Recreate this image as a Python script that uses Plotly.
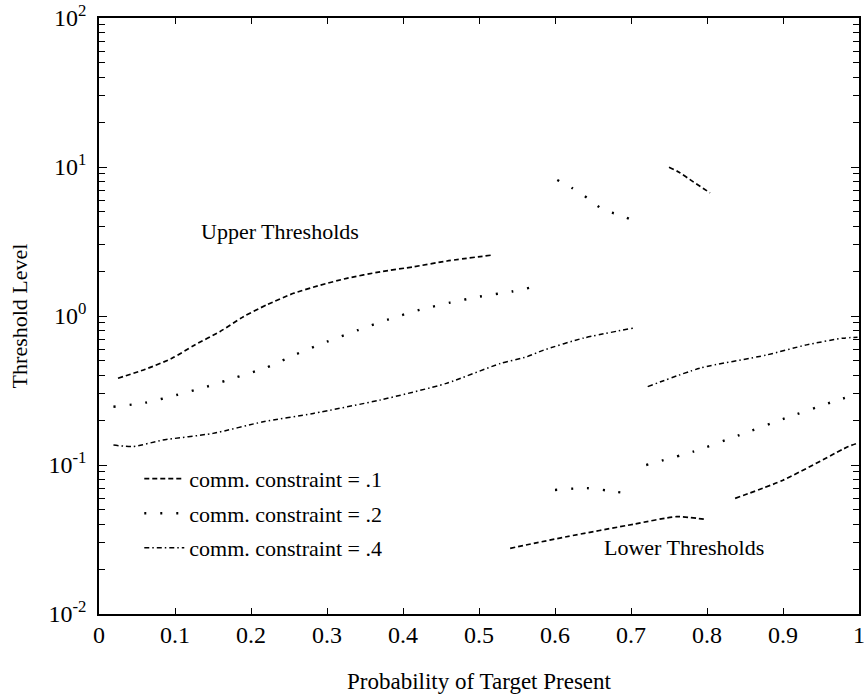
import plotly.graph_objects as go

# ---- data ----
# comm. constraint = .1 (dashed)
p_c1_upper = [0.025, 0.061, 0.096, 0.126, 0.159, 0.19, 0.221, 0.256, 0.291, 0.326, 0.37, 0.414, 0.458, 0.519]
t_c1_upper = [0.382, 0.439, 0.520, 0.639, 0.785, 0.99, 1.19, 1.42, 1.61, 1.79, 1.98, 2.14, 2.34, 2.57]
p_c1_upper2 = [0.75, 0.762, 0.782, 0.804]
t_c1_upper2 = [9.95, 9.3, 7.95, 6.7]
p_c1_lower = [0.541, 0.615, 0.703, 0.76, 0.80]
t_c1_lower = [0.0276, 0.033, 0.040, 0.045, 0.043]
p_c1_lower2 = [0.837, 0.90, 0.986, 0.998]
t_c1_lower2 = [0.0597, 0.079, 0.133, 0.14]

# comm. constraint = .2 (dotted)
p_c2_upper = [0.019, 0.061, 0.102, 0.142, 0.181, 0.221, 0.26, 0.30, 0.341, 0.381, 0.422, 0.462, 0.501, 0.543, 0.582]
t_c2_upper = [0.246, 0.262, 0.295, 0.336, 0.388, 0.452, 0.556, 0.673, 0.805, 0.95, 1.10, 1.23, 1.35, 1.46, 1.61]
p_c2_upper2 = [0.603, 0.623, 0.643, 0.664, 0.684, 0.704]
t_c2_upper2 = [8.18, 7.2, 6.17, 5.14, 4.79, 4.36]
p_c2_lower = [0.60, 0.642, 0.681, 0.70]
t_c2_lower = [0.068, 0.070, 0.066, 0.064]
p_c2_lower2 = [0.72, 0.782, 0.843, 0.903, 0.966, 0.998]
t_c2_lower2 = [0.10, 0.123, 0.159, 0.206, 0.266, 0.30]

# comm. constraint = .4 (dash-dot)
p_c4_upper = [0.019, 0.045, 0.084, 0.15, 0.216, 0.282, 0.37, 0.457, 0.528, 0.563, 0.585, 0.637, 0.703]
t_c4_upper = [0.136, 0.133, 0.147, 0.163, 0.195, 0.222, 0.273, 0.353, 0.48, 0.533, 0.59, 0.71, 0.83]
p_c4_lower = [0.722, 0.791, 0.878, 0.931, 0.979, 0.998]
t_c4_lower = [0.336, 0.447, 0.547, 0.64, 0.71, 0.72]

x_ticks = [0, 0.1, 0.2, 0.3, 0.4, 0.5, 0.6, 0.7, 0.8, 0.9, 1]
x_ticktext = ["0", "0.1", "0.2", "0.3", "0.4", "0.5", "0.6", "0.7", "0.8", "0.9", "1"]
y_ticks = [0.01, 0.1, 1, 10, 100]
y_ticktext = ["10<sup>-2</sup>", "10<sup>-1</sup>", "10<sup>0</sup>", "10<sup>1</sup>", "10<sup>2</sup>"]
y_minor = [m * 10 ** e for e in (-2, -1, 0, 1) for m in range(2, 10)]

labels = ["comm. constraint = .1", "comm. constraint = .2", "comm. constraint = .4"]

FONT = "Liberation Serif"

styles = {
    labels[0]: dict(dash="5px,3px", width=1.7),
    labels[1]: dict(dash="2px,14px", width=2.4),
    labels[2]: dict(dash="5px,3px,1.5px,3px", width=1.5),
}

segments = [
    (labels[0], p_c1_upper, t_c1_upper),
    (labels[0], p_c1_upper2, t_c1_upper2),
    (labels[0], p_c1_lower, t_c1_lower),
    (labels[0], p_c1_lower2, t_c1_lower2),
    (labels[1], p_c2_upper, t_c2_upper),
    (labels[1], p_c2_upper2, t_c2_upper2),
    (labels[1], p_c2_lower, t_c2_lower),
    (labels[1], p_c2_lower2, t_c2_lower2),
    (labels[2], p_c4_upper, t_c4_upper),
    (labels[2], p_c4_lower, t_c4_lower),
]

fig = go.Figure()
shown = set()
for name, xs, ys in segments:
    st = styles[name]
    fig.add_trace(go.Scatter(
        x=xs, y=ys, mode="lines", name=name, legendgroup=name,
        showlegend=name not in shown,
        line=dict(color="black", width=st["width"], dash=st["dash"], shape="spline", smoothing=0.6),
    ))
    shown.add(name)

fig.add_annotation(x=0.238, y=0.57, xref="x", yref="y", text="Upper Thresholds",
                   showarrow=False, font=dict(family=FONT, size=22, color="black"))
fig.add_annotation(x=0.77, y=-1.557, xref="x", yref="y", text="Lower Thresholds",
                   showarrow=False, font=dict(family=FONT, size=22, color="black"))

fig.update_layout(
    width=864, height=694,
    margin=dict(l=99, r=5, t=18, b=80),
    paper_bgcolor="white", plot_bgcolor="white",
    font=dict(family=FONT, size=22, color="black"),
    showlegend=True,
    legend=dict(x=0.053, y=0.262, xanchor="left", yanchor="top",
                bgcolor="rgba(0,0,0,0)", font=dict(family=FONT, size=22),
                traceorder="grouped", tracegroupgap=3, itemwidth=40),
)
fig.update_xaxes(
    automargin=False, ticklabeloverflow="allow",
    range=[0, 1], tickvals=x_ticks, ticktext=x_ticktext,
    ticks="inside", ticklen=6, tickwidth=1.2, tickcolor="black",
    showline=True, linecolor="black", linewidth=1.6, mirror="ticks",
    showgrid=False, zeroline=False,
    tickfont=dict(family=FONT, size=24),
    ticklabelstandoff=-2,
    title=dict(text="Probability of Target Present", standoff=28,
               font=dict(family=FONT, size=23)),
)
fig.update_yaxes(
    automargin=False, ticklabeloverflow="allow",
    type="log", range=[-2, 2], tickvals=y_ticks, ticktext=y_ticktext,
    ticks="inside", ticklen=8, tickwidth=1.2, tickcolor="black",
    ticklabelstandoff=6,
    minor=dict(tickvals=y_minor, ticks="inside", ticklen=6, tickwidth=1.2,
               tickcolor="black", showgrid=False),
    showline=True, linecolor="black", linewidth=1.6, mirror="ticks",
    showgrid=False, zeroline=False,
    tickfont=dict(family=FONT, size=24),
    title=dict(text="Threshold Level", standoff=15,
               font=dict(family=FONT, size=22)),
)

fig.write_html("out.html", config={"displayModeBar": False},
               post_script="document.body.style.margin='0px';")
